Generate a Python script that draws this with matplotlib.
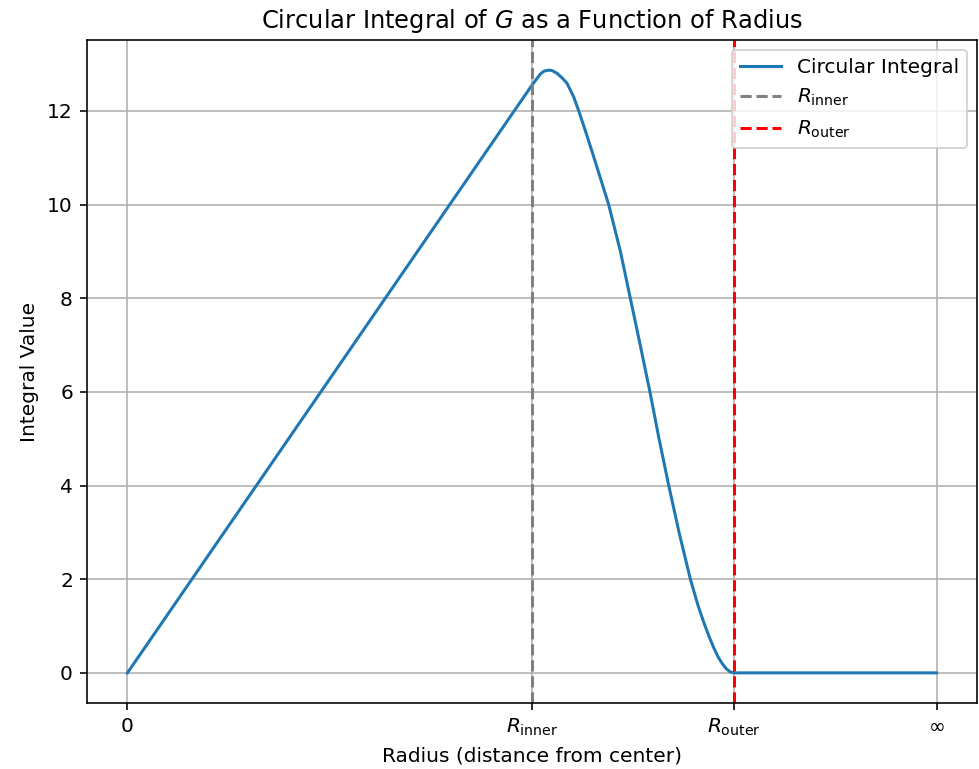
import matplotlib
matplotlib.use("Agg")
import matplotlib.pyplot as plt

# radius in plot units: 0, R_inner=2, R_outer=3, "infinity"=4
r_inner = 2.0
r_outer = 3.0
r_inf = 4.0

radius = [0.0, 1.893, 2.0, 2.042, 2.06, 2.083, 2.10, 2.124, 2.15, 2.173, 2.206,
          2.231, 2.262, 2.297, 2.337, 2.379, 2.437, 2.486, 2.536, 2.583, 2.628,
          2.676, 2.727, 2.783, 2.820, 2.849, 2.875, 2.898, 2.920, 2.940, 2.960,
          2.980, 3.0, 4.0]
integral = [0.0, 11.88, 12.55, 12.79, 12.85, 12.87, 12.86, 12.80, 12.70, 12.59, 12.30,
            12.0, 11.60, 11.13, 10.58, 10.0, 9.0, 8.0, 6.98, 6.0, 5.0,
            4.0, 3.0, 2.0, 1.45, 1.08, 0.78, 0.54, 0.34, 0.20, 0.09,
            0.02, 0.0, 0.0]

tick_pos = [0, r_inner, r_outer, r_inf]
tick_labels = ['0', r'$R_{\mathrm{inner}}$', r'$R_{\mathrm{outer}}$', r'$\infty$']

dpi = 145
fig = plt.figure(figsize=(979 / dpi, 769 / dpi), dpi=dpi)
ax = fig.add_axes([87 / 979, 1 - 703 / 769, 890 / 979, 663 / 769])

ax.plot(radius, integral, label='Circular Integral')
ax.axvline(r_inner, color='gray', linestyle='--', label=r'$R_{\mathrm{inner}}$')
ax.axvline(r_outer, color='red', linestyle='--', label=r'$R_{\mathrm{outer}}$')

ax.set_xticks(tick_pos)
ax.set_xticklabels(tick_labels)
ax.set_title(r'Circular Integral of $G$ as a Function of Radius')
ax.set_xlabel('Radius (distance from center)')
ax.set_ylabel('Integral Value')
ax.grid(True)
ax.legend(loc='upper right')

fig.savefig('out.png', dpi=dpi)
